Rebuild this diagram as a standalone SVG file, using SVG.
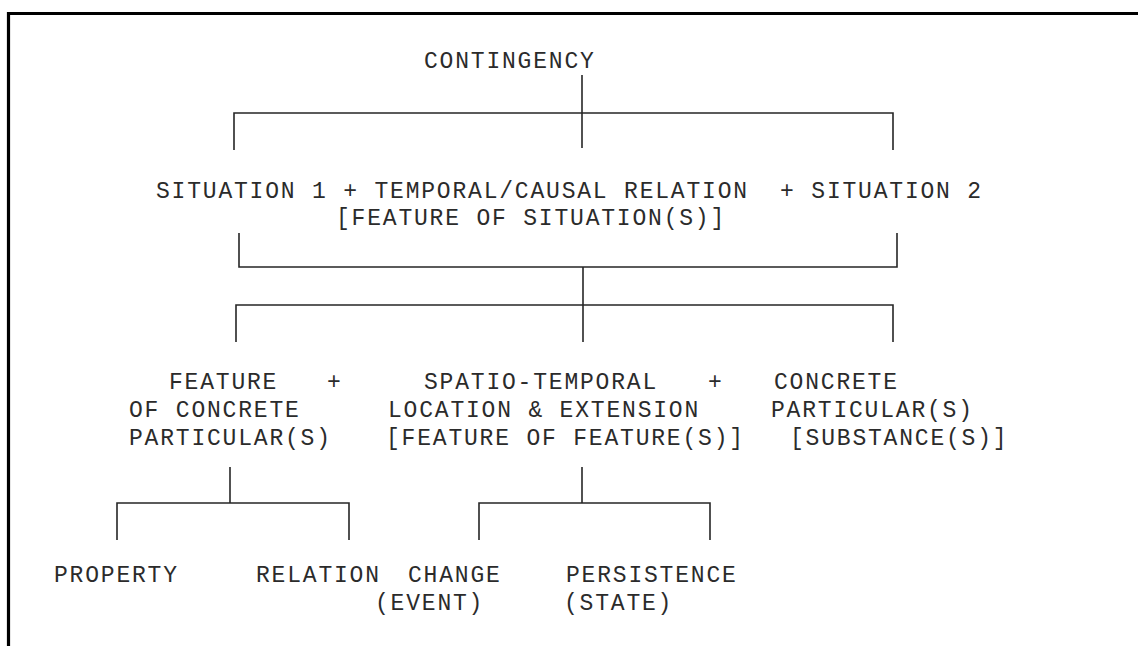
<svg xmlns="http://www.w3.org/2000/svg" width="1138" height="646" viewBox="0 0 1138 646">
<style>
  text { font-family: "Liberation Mono", "Courier New", monospace; font-size: 23px; letter-spacing: 1.8px; fill: #2b2b2b; }
  .conn { fill: none; stroke: #262626; stroke-width: 1.6; }
  .frame { fill: none; stroke: #000; stroke-width: 3.2; }
</style>
<rect width="1138" height="646" fill="#fff"/>
<path class="frame" d="M8.5,646 V13.5 H1138"/>

<g id="connectors">
  <path class="conn" d="M582,75 V148"/>
  <path class="conn" d="M234,150 V113 H893 V150"/>
  <path class="conn" d="M239,233 V267 H897 V233"/>
  <path class="conn" d="M583,267 V305"/>
  <path class="conn" d="M236,342 V305 H893 V342"/>
  <path class="conn" d="M583,305 V342"/>
  <path class="conn" d="M230,467 V503"/>
  <path class="conn" d="M117,540 V503 H349 V540"/>
  <path class="conn" d="M582,467 V503"/>
  <path class="conn" d="M479,540 V503 H710 V540"/>
</g>

<g id="node-contingency">
  <text x="424" y="68">CONTINGENCY</text>
</g>

<g id="node-situation">
  <text x="156" y="198" xml:space="preserve">SITUATION 1 + TEMPORAL/CAUSAL RELATION  + SITUATION 2</text>
  <text x="336" y="225">[FEATURE OF SITUATION(S)]</text>
</g>

<g id="node-feature">
  <text x="169" y="389">FEATURE</text>
  <text x="129" y="417">OF CONCRETE</text>
  <text x="129" y="445">PARTICULAR(S)</text>
</g>

<g id="plus-1">
  <text x="327" y="389">+</text>
</g>

<g id="node-spatio-temporal">
  <text x="424" y="389">SPATIO-TEMPORAL</text>
  <text x="388" y="417">LOCATION &amp; EXTENSION</text>
  <text x="386" y="445">[FEATURE OF FEATURE(S)]</text>
</g>

<g id="plus-2">
  <text x="708" y="389">+</text>
</g>

<g id="node-concrete">
  <text x="774" y="389">CONCRETE</text>
  <text x="771" y="417">PARTICULAR(S)</text>
  <text x="790" y="445">[SUBSTANCE(S)]</text>
</g>

<g id="node-property">
  <text x="54" y="582">PROPERTY</text>
</g>

<g id="node-relation">
  <text x="256" y="582">RELATION</text>
</g>

<g id="node-change">
  <text x="408" y="582">CHANGE</text>
  <text x="375" y="610">(EVENT)</text>
</g>

<g id="node-persistence">
  <text x="566" y="582">PERSISTENCE</text>
  <text x="564" y="610">(STATE)</text>
</g>
</svg>
